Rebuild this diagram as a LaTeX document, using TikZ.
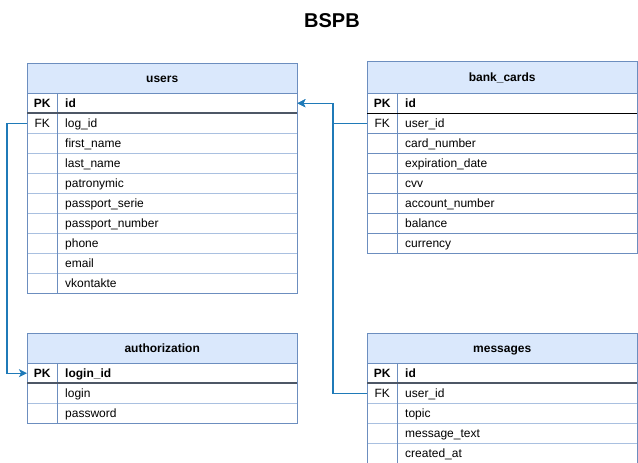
\documentclass[tikz,border=0pt]{standalone}
\usepackage{fontspec}
\setmainfont{Liberation Sans}
\usetikzlibrary{arrows.meta,positioning}
\definecolor{headblue}{HTML}{DAE8FC}
\definecolor{edgeblue}{HTML}{6C8EBF}
\definecolor{rowblue}{HTML}{A9C0E0}
\definecolor{pkgray}{HTML}{4D5766}
\definecolor{linkblue}{HTML}{1F7AB8}

\begin{document}
\begin{tikzpicture}[x=1pt,y=-1pt,font=\fontsize{12}{14}\selectfont,
                    >={Stealth[length=8pt,width=8pt,inset=2pt]}]
  \tikzset{
    head/.style={draw=edgeblue,fill=headblue,anchor=north west,inner sep=0pt,
                 minimum width=270pt,minimum height=30pt,
                 text height=10.5pt,text depth=1.5pt,
                 font=\fontsize{12}{14}\selectfont\bfseries},
    keycell/.style={anchor=north west,inner sep=0pt,minimum width=30pt,
                    minimum height=20pt,text height=10.5pt,text depth=1.5pt},
    fieldcell/.style={anchor=north west,inner sep=0pt,inner xsep=8pt,
                      minimum height=20pt,text width=224pt,align=left,
                      text height=10.5pt,text depth=1.5pt},
    pk/.style={font=\fontsize{12}{14}\selectfont\bfseries},
    rowline/.style={draw=rowblue,line width=1pt},
    edge/.style={draw=edgeblue,line width=1pt},
    pkline/.style={draw=pkgray,line width=2pt},
    fk/.style={draw=linkblue,line width=1.2pt}
  }
  \useasboundingbox (0,0) rectangle (638,463);

  \node[font=\fontsize{20}{24}\selectfont\bfseries] (title) at (332,21) {BSPB};

  % users
  \node[head] (users) at (27,63) {users};
  \node[keycell,pk] (users-k1) at (27,93) {PK};
  \node[fieldcell,pk] (users-f1) at (57,93) {id};
  \foreach \k/\f [count=\i from 2] in {FK/log\_id,/first\_name,/last\_name,
      /patronymic,/passport\_serie,/passport\_number,/phone,/email,/vkontakte}
    {
    \node[keycell] (users-k\i) at (27,73+20*\i) {\k};
    \node[fieldcell] (users-f\i) at (57,73+20*\i) {\f};
    \draw[rowline] (users-k\i.south west) -- (users-f\i.south east);
    }
  \draw[edge] (users.north west) rectangle (users-f10.south east);
  \draw[edge] (users-k1.north east) -- (users-k10.south east);
  \draw[pkline] (users-k1.south west) -- (users-f1.south east);

  % bank_cards
  \node[head,minimum height=32pt] (cards) at (367,61) {bank\_cards};
  \node[keycell,pk] (cards-k1) at (367,93) {PK};
  \node[fieldcell,pk] (cards-f1) at (397,93) {id};
  \foreach \k/\f [count=\i from 2] in {FK/user\_id,/card\_number,
      /expiration\_date,/cvv,/account\_number,/balance,/currency}
    {
    \node[keycell] (cards-k\i) at (367,73+20*\i) {\k};
    \node[fieldcell] (cards-f\i) at (397,73+20*\i) {\f};
    \draw[edge] (cards-k\i.south west) -- (cards-f\i.south east);
    }
  \draw[edge] (cards.north west) rectangle (cards-f8.south east);
  \draw[edge] (cards-k1.north east) -- (cards-k8.south east);
  \draw[line width=1pt] (cards-k1.south west) -- (cards-f1.south east);

  % authorization
  \node[head] (auth) at (27,333) {authorization};
  \node[keycell,pk] (auth-k1) at (27,363) {PK};
  \node[fieldcell,pk] (auth-f1) at (57,363) {login\_id};
  \foreach \k/\f [count=\i from 2] in {/login,/password}
    {
    \node[keycell] (auth-k\i) at (27,343+20*\i) {\k};
    \node[fieldcell] (auth-f\i) at (57,343+20*\i) {\f};
    \draw[rowline] (auth-k\i.south west) -- (auth-f\i.south east);
    }
  \draw[edge] (auth.north west) rectangle (auth-f3.south east);
  \draw[edge] (auth-k1.north east) -- (auth-k3.south east);
  \draw[pkline] (auth-k1.south west) -- (auth-f1.south east);

  % messages
  \node[head] (msgs) at (367,333) {messages};
  \node[keycell,pk] (msgs-k1) at (367,363) {PK};
  \node[fieldcell,pk] (msgs-f1) at (397,363) {id};
  \foreach \k/\f [count=\i from 2] in {FK/user\_id,/topic,/message\_text,
      /created\_at}
    {
    \node[keycell] (msgs-k\i) at (367,343+20*\i) {\k};
    \node[fieldcell] (msgs-f\i) at (397,343+20*\i) {\f};
    \draw[rowline] (msgs-k\i.south west) -- (msgs-f\i.south east);
    }
  \draw[edge] (msgs.north west) rectangle (msgs-f5.south east);
  \draw[edge] (msgs-k1.north east) -- (msgs-k5.south east);
  \draw[pkline] (msgs-k1.south west) -- (msgs-f1.south east);

  % links
  \draw[fk,->] (users-k2.west) -- ++(-20,0) |- (auth-k1.west);
  \draw[fk,->] (cards-k2.west) -- ++(-34,0) |- (users-f1.east);
  \draw[fk,->] (msgs-k2.west) -- ++(-34,0) |- (users-f1.east);
\end{tikzpicture}
\end{document}
